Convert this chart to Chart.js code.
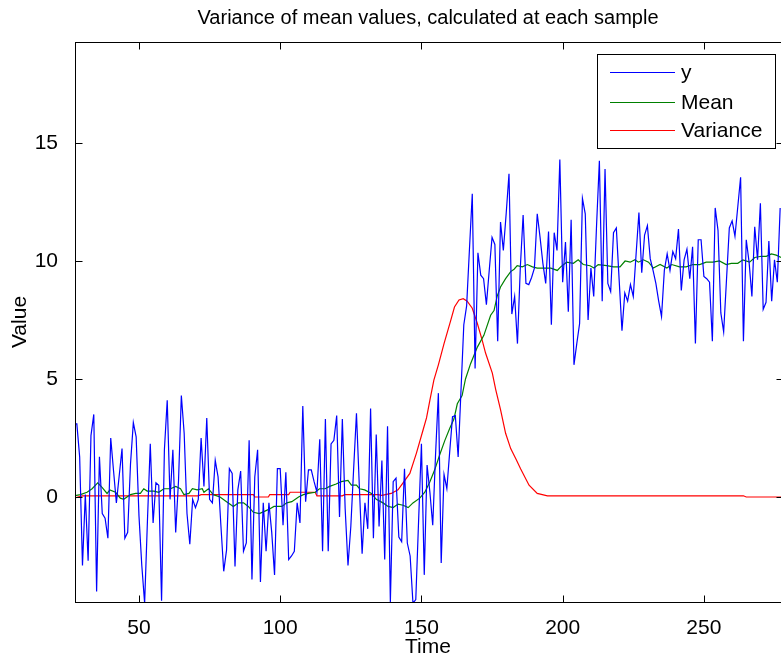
<!DOCTYPE html>
<html>
<head>
<meta charset="utf-8">
<script src="https://cdn.jsdelivr.net/npm/chart.js@4"></script>
<style>
  html, body { margin:0; padding:0; background:#fff; }
  canvas { display:block; }
</style>
</head>
<body>
<canvas id="chart" width="781" height="662"></canvas>
<script>
// noisy signal, one sample per time step starting at t = 27
const firstTime = 27;
const yValues = [
  3.1, 3.1, 1.7, -2.9, 0.1, -2.7, 2.6, 3.5, -4.0, 1.7,
  -0.7, -0.9, -1.75, 2.5, 1.1, -0.25, 0.9, 2.05, -1.75, -1.5,
  1.4, 3.15, 2.55, -0.8, -2.9, -4.5, -1.0, 2.25, -1.1, 0.6,
  0.5, -4.4, 2.0, 4.1, -0.1, 2.0, -1.5, 0.7, 4.3, 2.7,
  -0.7, -2.0, -0.1, -0.45, -0.1, 2.5,
  0.45, 3.35, -0.1, -0.25, 1.55, 0.85, -1.2, -3.15, -2.25, 1.2,
  1.0, -2.95, 0.3, 1.1, -2.3, -1.95, 2.4, -3.5, 0.85, 2.0,
  -3.6, -0.25, -2.3, -0.25, -1.5, -3.3, 1.2, 1.2, -1.2, 1.05,
  -2.65, -2.5, -2.3, -0.25, -1.1, 3.85, -0.2, 1.15, 1.15, 0.65,
  0.2, 2.45, -2.3, 3.3,
  -2.3, 2.25, 2.4, 3.45, -0.85, 3.3, -0.5, -2.9, -1.25, 1.2,
  3.55, 0.5, -2.4, -0.25, -1.35, 3.75, -1.75, 2.65, -1.25, 1.55,
  -2.65, 3.0, -4.45, 0.65, 0.8, -1.7, -1.9, 1.2, -1.95, -2.5,
  -4.5, -4.35, -1.0, 2.25, -3.3, 1.35, 0.2, -1.2, 1.8, 4.4,
  -2.8, 0.95, 0.35, 1.9, 3.4, 3.45, 1.7, 4.5,
  7.3, 8.1, 10.5, 12.85, 5.45, 10.35, 9.4, 9.25, 8.15, 9.6,
  11.0, 10.7, 6.6, 11.65, 10.45, 12.0, 13.7, 7.75, 8.5, 6.5,
  9.7, 11.95, 9.05, 9.0, 9.3, 9.7, 12.0, 11.0, 9.9, 9.05,
  11.25, 7.3, 11.2, 10.45, 14.3, 9.1, 10.8,
  7.85, 11.75, 5.6, 6.5, 7.35, 12.65, 12.0, 7.5, 9.7, 8.5,
  11.5, 14.25, 8.3, 13.9, 9.05, 8.7, 11.2, 11.4, 9.2, 7.05,
  8.65, 8.3, 9.0, 8.5, 10.3, 12.05, 9.5, 11.1, 11.5, 10.1,
  9.6, 9.05, 8.3, 7.65, 9.6, 10.3, 9.6, 10.4, 10.1,
  11.35, 8.75, 10.05, 10.5, 9.25, 10.6, 6.5, 10.9, 10.9, 9.35,
  9.25, 9.1, 6.6, 12.25, 11.3, 7.8, 7.0, 9.2, 11.4, 11.7,
  11.05, 12.3, 13.55, 6.6, 10.9, 9.95, 8.5, 11.45, 10.05, 12.45,
  7.95, 8.25, 10.85, 8.3, 10.05, 9.1, 12.25
];

// running mean
const meanTimes = [
  26.9, 29.3, 31.6, 33.4, 35.4, 37, 38.7, 39.7, 41.7, 43.4, 44.6, 47, 48.8, 50.5, 51.7, 52.9,
  55.3, 57, 58.8, 61.2, 63, 64.7, 65.9, 67.7, 68.9, 70.6, 72.4, 73, 74.6, 76.3, 78.7, 81,
  83.4, 85.2, 87, 88.7, 90.5, 92.6, 94.6, 96.4, 97.8, 100.6, 102.3, 104.1, 106.5, 108.2, 110, 112.4,
  113.9, 115.9, 117.5, 119.8, 121.6, 124, 125.2, 127, 128.1, 129.9, 132.3, 134, 136.4, 138.2, 140, 141.7,
  143.5, 145.3, 147, 149.4, 151.2, 153, 154.7, 156.5, 158.3, 160, 161.5, 162.7, 164.4, 165.6, 167.4, 169.8,
  172.1, 174.5, 175.7, 176.8, 178, 179.8, 181.6, 182.8, 183.9, 185.7, 187.5, 189.3, 191, 193.4, 195.8, 198.1,
  199.3, 201.4, 203.8, 205.5, 207.3, 209.7, 211.1, 212.6, 215.6, 218, 220.3, 222.1, 223.9, 225.6, 226.8, 228.6,
  230.4, 232.1, 234.5, 236.9, 238.6, 241.4, 243.7, 246.1, 248.5, 250.8, 253.2, 255.5, 257.9, 259.7, 262, 263.8,
  266.2, 268, 270.3, 272.1, 273.9, 275.6, 277.4
];
const meanValues = [
  0.05, 0.1, 0.2, 0.35, 0.6, 0.4, 0.15, 0.3, 0.2, -0.05, -0.1, 0.1, 0.15, 0.15, 0.35, 0.25,
  0.25, 0.2, 0.35, 0.35, 0.45, 0.35, 0.1, 0.15, 0.35, 0.3, 0.35, 0.2, 0.35, 0.1, 0, -0.2,
  -0.4, -0.25, -0.25, -0.4, -0.65, -0.7, -0.6, -0.5, -0.4, -0.4, -0.25, -0.2, 0, 0.1, 0.15, 0.2,
  0.35, 0.35, 0.45, 0.55, 0.65, 0.7, 0.5, 0.5, 0.35, 0.3, 0.15, -0.1, -0.25, -0.4, -0.45, -0.3,
  -0.35, -0.45, -0.25, -0.05, 0.2, 0.65, 1.15, 1.8, 2.4, 2.9, 3.3, 3.95, 4.3, 5.0, 5.65, 6.35,
  6.85, 7.7, 7.9, 8.5, 8.9, 9.25, 9.55, 9.65, 9.8, 9.75, 9.85, 9.75, 9.7, 9.7, 9.7, 9.6,
  9.75, 9.95, 9.9, 10.05, 9.85, 9.8, 9.7, 9.85, 9.8, 9.75, 9.75, 10.0, 9.95, 10.05, 9.95, 10.05,
  9.95, 9.7, 9.85, 9.7, 9.85, 9.75, 9.75, 9.85, 9.85, 9.95, 9.95, 10.0, 9.85, 9.9, 9.9, 10.05,
  9.95, 10.15, 10.2, 10.2, 10.3, 10.25, 10.15
];

// variance of the mean
const varTimes = [
  27, 30, 71, 72, 90.5, 91, 95.8, 96.3, 103, 103.5, 112.4, 113, 122, 122.8, 134.6, 136,
  139.3, 141.7, 143.5, 145.9, 148.2, 150.6, 151.8, 153, 154.4, 156, 158, 160.3, 161.7, 163.3, 164.8, 166.2,
  168, 169.8, 171.5, 172.7, 175.1, 176.3, 178, 179.8, 181.6, 183.5, 185.1, 188.1, 191, 194.6, 264, 265, 277.4
];
const varValues = [
  -0.05, 0.05, 0.05, 0.1, 0.1, 0, 0, 0.1, 0.1, 0.2, 0.2, 0.05, 0.05, 0.1, 0.1, 0.07,
  0.15, 0.3, 0.6, 1.0, 1.85, 2.85, 3.35, 4.1, 4.95, 5.6, 6.5, 7.45, 8.05, 8.35, 8.4, 8.3,
  8.0, 7.35, 6.65, 6.1, 5.25, 4.55, 3.7, 2.7, 2.05, 1.6, 1.2, 0.5, 0.15, 0.05, 0.05, 0, 0
];

const xTicks = [50, 100, 150, 200, 250];
const yTicks = [0, 5, 10, 15];
const seriesNames = ['y', 'Mean', 'Variance'];
const seriesColors = ['#0000ff', '#008000', '#ff0000'];

const FONT = 'Liberation Sans, Arial, Helvetica, sans-serif';

function pts(ts, vs) { return vs.map((v, i) => ({ x: ts[i], y: v })); }
const yTimes = yValues.map((v, i) => firstTime + i);

// matlab style box with inward ticks on all four sides
const boxPlugin = {
  id: 'box',
  afterDatasetsDraw(chart) {
    const c = chart.ctx, a = chart.chartArea;
    const xs = chart.scales.x, ys = chart.scales.y;
    const L = Math.round(a.left) + 0.5, T = Math.round(a.top) + 0.5;
    const B = Math.round(a.bottom) + 0.5, R = Math.round(a.right) + 2.5;
    c.save();
    c.strokeStyle = '#000';
    c.lineWidth = 1;
    c.strokeRect(L, T, R - L, B - T);
    c.beginPath();
    xTicks.forEach(t => {
      const px = Math.round(xs.getPixelForValue(t)) + 0.5;
      c.moveTo(px, B); c.lineTo(px, B - 7);
      c.moveTo(px, T); c.lineTo(px, T + 7);
    });
    yTicks.forEach(t => {
      const py = Math.round(ys.getPixelForValue(t)) + 0.5;
      c.moveTo(L, py); c.lineTo(L + 7, py);
      c.moveTo(R, py); c.lineTo(R - 7, py);
    });
    c.stroke();
    c.restore();
  },
  afterDraw(chart) {
    const c = chart.ctx, a = chart.chartArea;
    c.save();
    // title
    c.fillStyle = '#000';
    c.font = '20px ' + FONT;
    c.textAlign = 'center';
    c.textBaseline = 'middle';
    c.fillText('Variance of mean values, calculated at each sample', (a.left + a.right) / 2, 18);
    // legend
    const bx = 597.5, by = 54.5, bw = 178, bh = 94;
    c.fillStyle = '#fff';
    c.fillRect(bx, by, bw, bh);
    c.strokeStyle = '#000';
    c.lineWidth = 1;
    c.strokeRect(bx, by, bw, bh);
    const rows = [72, 102, 130];
    c.font = '21px ' + FONT;
    c.textAlign = 'left';
    seriesNames.forEach((n, i) => {
      c.strokeStyle = seriesColors[i];
      c.beginPath();
      c.moveTo(610, rows[i] + 0.5);
      c.lineTo(675, rows[i] + 0.5);
      c.stroke();
      c.fillStyle = '#000';
      c.fillText(n, 681, rows[i] + 1);
    });
    c.restore();
  }
};

const tickFont = { family: FONT, size: 21 };

new Chart(document.getElementById('chart').getContext('2d'), {
  type: 'line',
  data: {
    datasets: [
      { label: seriesNames[0], data: pts(yTimes, yValues), borderColor: seriesColors[0] },
      { label: seriesNames[1], data: pts(meanTimes, meanValues), borderColor: seriesColors[1] },
      { label: seriesNames[2], data: pts(varTimes, varValues), borderColor: seriesColors[2] }
    ]
  },
  options: {
    responsive: false,
    animation: false,
    events: [],
    elements: {
      line: { borderWidth: 1.2, tension: 0, fill: false },
      point: { radius: 0 }
    },
    layout: { padding: { top: 42, right: 0, left: 0, bottom: 0 } },
    scales: {
      x: {
        type: 'linear',
        min: 27.35,
        max: 277.3,
        afterBuildTicks: s => { s.ticks = xTicks.map(v => ({ value: v })); },
        afterFit: s => { s.height = 60; },
        grid: { display: false },
        border: { display: false },
        ticks: { font: tickFont, color: '#000', padding: 6, maxRotation: 0 },
        title: { display: true, text: 'Time', font: tickFont, color: '#000', padding: { top: 0, bottom: 2 } }
      },
      y: {
        type: 'linear',
        min: -4.45,
        max: 19.28,
        afterBuildTicks: s => { s.ticks = yTicks.map(v => ({ value: v })); },
        afterFit: s => { s.width = 75; },
        grid: { display: false },
        border: { display: false },
        ticks: { font: tickFont, color: '#000', padding: 9 },
        title: { display: true, text: 'Value', font: tickFont, color: '#000', padding: { top: 8, bottom: 0 } }
      }
    },
    plugins: {
      legend: { display: false },
      tooltip: { enabled: false },
      title: { display: false }
    }
  },
  plugins: [boxPlugin]
});
</script>
</body>
</html>
